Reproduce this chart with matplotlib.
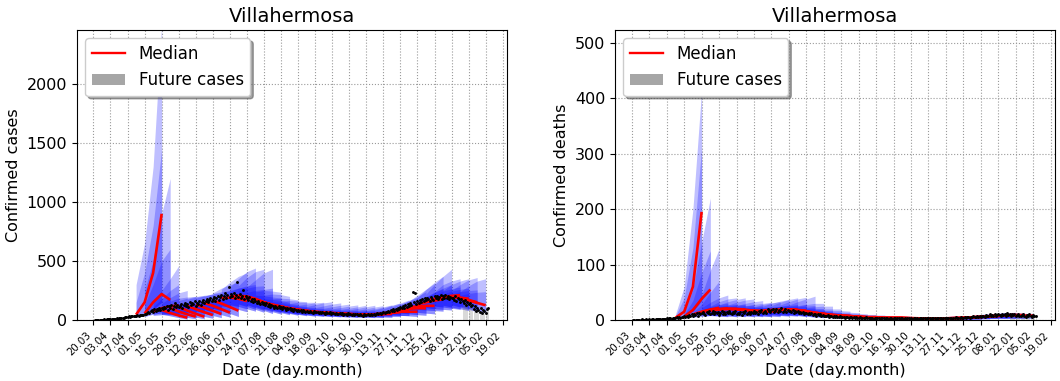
import numpy as np
import matplotlib
matplotlib.use("Agg")
import matplotlib.pyplot as plt
from matplotlib.lines import Line2D
from matplotlib.patches import Patch

# x axis: days counted from 20.03
tick_days = list(range(0, 337, 14))
tick_labels = ["20.03", "03.04", "17.04", "01.05", "15.05", "29.05", "12.06",
               "26.06", "10.07", "24.07", "07.08", "21.08", "04.09", "18.09",
               "02.10", "16.10", "30.10", "13.11", "27.11", "11.12", "25.12",
               "08.01", "22.01", "05.02", "19.02"]

# daily reported values, day 1 .. 324
obs_cases = [
    1, 0, 2, 1, 3, 2, 4, 3, 5, 4, 6, 5, 7, 8,
    9, 8, 11, 10, 13, 12, 15, 17, 16, 20, 19, 23, 25, 28,
    30, 27, 33, 35, 31, 38, 36, 40, 34, 42, 39, 45, 41, 48,
    55, 62, 70, 58, 78, 85, 66, 90, 74, 95, 82, 100, 88, 105,
    92, 110, 98, 120, 85, 115, 104, 130, 96, 118, 140, 108, 125, 112,
    122, 135, 105, 128, 145, 118, 138, 110, 150, 126, 142, 132, 160, 120,
    148, 138, 165, 130, 155, 172, 145, 160, 182, 150, 170, 190, 158, 176,
    195, 165, 185, 205, 172, 198, 215, 180, 200, 225, 188, 210, 280, 195,
    218, 200, 230, 190, 212, 325, 198, 222, 185, 205, 254, 178, 200, 188,
    170, 195, 160, 182, 150, 175, 165, 140, 160, 148, 132, 155, 138, 145,
    125, 140, 118, 132, 110, 128, 120, 105, 122, 112, 98, 115, 104, 108,
    95, 110, 100, 88, 105, 92, 98, 85, 96, 80, 90, 84, 78, 88,
    76, 82, 70, 85, 74, 68, 80, 72, 65, 78, 70, 62, 74, 66,
    64, 72, 60, 68, 58, 66, 62, 55, 70, 60, 57, 64, 52, 60,
    58, 50, 62, 55, 48, 60, 52, 57, 46, 54, 50, 44, 56, 48,
    50, 45, 53, 42, 48, 51, 44, 40, 49, 46, 38, 47, 43, 41,
    48, 44, 40, 52, 46, 55, 42, 50, 58, 48, 62, 55, 60, 66,
    58, 70, 64, 75, 68, 82, 74, 90, 78, 95, 85, 102, 92, 110,
    98, 115, 105, 125, 112, 135, 118, 145, 128, 240, 150, 232, 138, 160,
    148, 170, 155, 178, 162, 185, 168, 190, 175, 160, 195, 180, 172, 200,
    185, 205, 178, 195, 210, 182, 200, 188, 215, 190, 205, 175, 198, 185,
    190, 170, 200, 162, 185, 175, 150, 180, 165, 140, 172, 128, 155, 135,
    145, 118, 130, 95, 120, 80, 105, 88, 70, 98, 62, 85, 75, 60,
    90, 99,
]

obs_deaths = [
    0, 0, 0, 0, 0, 0, 0, 1, 0, 0, 1, 0, 0, 1,
    0, 1, 1, 0, 1, 1, 2, 1, 1, 2, 1, 2, 2, 3,
    2, 3, 3, 2, 4, 3, 4, 5, 3, 5, 4, 6, 5, 7,
    6, 8, 5, 9, 7, 10, 8, 11, 9, 12, 8, 13, 10, 12,
    14, 11, 9, 15, 12, 17, 10, 13, 16, 11, 14, 12, 15, 9,
    13, 16, 11, 14, 10, 15, 12, 17, 13, 11, 14, 12, 16, 10,
    13, 11, 15, 9, 14, 12, 16, 10, 13, 15, 11, 14, 12, 17,
    13, 15, 11, 16, 14, 18, 12, 15, 17, 13, 19, 16, 14, 18,
    20, 15, 17, 19, 14, 18, 16, 21, 15, 17, 19, 14, 18, 16,
    17, 15, 18, 13, 16, 14, 17, 12, 15, 13, 14, 11, 13, 12,
    11, 13, 10, 12, 9, 11, 10, 8, 11, 9, 10, 7, 9, 8,
    8, 7, 9, 6, 8, 7, 6, 8, 5, 7, 6, 5, 7, 6,
    5, 6, 4, 6, 5, 4, 6, 5, 4, 5, 3, 5, 4, 4,
    5, 3, 4, 4, 3, 5, 4, 3, 4, 3, 4, 2, 4, 3,
    3, 4, 2, 3, 4, 3, 2, 3, 4, 2, 3, 3, 2, 4,
    3, 2, 3, 3, 2, 4, 3, 2, 3, 2, 3, 3, 2, 3,
    2, 3, 3, 2, 3, 2, 4, 3, 2, 3, 3, 2, 3, 4,
    3, 2, 3, 4, 3, 2, 3, 3, 4, 3, 2, 4, 3, 3,
    4, 3, 3, 4, 2, 4, 3, 5, 4, 3, 4, 5, 3, 4,
    5, 4, 6, 5, 4, 6, 5, 7, 5, 6, 8, 6, 7, 5,
    7, 8, 6, 9, 7, 8, 10, 7, 9, 8, 11, 8, 9, 10,
    9, 8, 11, 9, 10, 8, 12, 9, 10, 8, 11, 9, 10, 7,
    9, 10, 8, 7, 9, 11, 8, 6, 9, 7, 10, 8, 6, 9,
    7, 8,
]
obs_day = np.arange(1, len(obs_cases) + 1)
recent_from = 303  # last days, still being revised

# weekly forecasts, 21-day horizon, values at offsets 0/7/14/21 days
fc_start = [35, 42, 49, 56, 63, 70, 77, 84, 91, 98, 105, 112, 119, 126,
            133, 140, 147, 154, 161, 168, 175, 182, 189, 196, 203, 210,
            217, 224, 231, 238, 245, 252, 259, 266, 273, 280, 287, 294, 301]
knot_offsets = [0, 7, 14, 21]

cases_med = [
    [45, 150, 400, 900], [55, 150, 220, 170], [70, 100, 115, 125], [85, 60, 38, 20],
    [100, 72, 48, 28], [110, 80, 52, 28], [120, 92, 66, 42], [130, 105, 78, 51],
    [145, 120, 92, 62], [165, 140, 110, 79], [185, 190, 180, 160], [200, 205, 190, 170],
    [205, 200, 180, 150], [195, 175, 150, 125], [175, 150, 125, 100], [150, 130, 110, 90],
    [130, 115, 98, 82], [115, 100, 86, 72], [100, 88, 76, 65], [88, 78, 68, 60],
    [78, 70, 62, 55], [70, 64, 58, 52], [64, 58, 53, 48], [60, 55, 50, 46],
    [55, 51, 47, 44], [50, 48, 46, 44], [48, 47, 46, 45], [46, 48, 50, 52],
    [50, 55, 60, 66], [58, 66, 75, 85], [72, 70, 70, 70], [90, 95, 100, 100],
    [110, 115, 120, 120], [135, 150, 165, 175], [160, 180, 195, 200], [178, 195, 205, 210],
    [190, 195, 190, 180], [195, 185, 170, 150], [185, 165, 145, 125],
]
cases_up = [
    [300, 650, 1300, 2500], [250, 500, 900, 1200], [150, 250, 350, 460], [140, 190, 230, 250],
    [160, 185, 195, 200], [165, 185, 200, 205], [175, 195, 210, 215], [185, 205, 220, 230],
    [200, 225, 240, 250], [230, 270, 300, 320], [260, 320, 370, 400], [280, 350, 410, 440],
    [290, 360, 410, 430], [280, 340, 400, 430], [240, 250, 245, 235], [210, 220, 215, 200],
    [180, 185, 180, 170], [160, 165, 160, 155], [140, 150, 150, 150], [125, 135, 145, 150],
    [115, 130, 145, 155], [105, 120, 135, 145], [100, 112, 125, 135], [95, 105, 118, 128],
    [90, 100, 112, 125], [85, 98, 112, 125], [82, 95, 110, 122], [80, 95, 112, 128],
    [85, 105, 125, 145], [95, 120, 145, 170], [110, 135, 160, 190], [130, 165, 200, 240],
    [160, 210, 260, 310], [190, 260, 320, 370], [220, 300, 370, 430], [240, 300, 330, 350],
    [250, 300, 330, 350], [250, 300, 340, 360], [240, 290, 330, 350],
]
cases_up_in = [
    [150, 400, 800, 1450], [130, 300, 500, 600], [110, 180, 250, 300], [110, 130, 140, 150],
    [125, 130, 130, 130], [135, 140, 140, 140], [145, 150, 150, 150], [155, 160, 160, 160],
    [170, 175, 175, 175], [195, 205, 210, 215], [220, 250, 270, 280], [240, 270, 290, 300],
    [245, 270, 285, 290], [235, 250, 260, 270], [210, 205, 195, 185], [180, 175, 165, 150],
    [155, 150, 140, 130], [138, 130, 122, 115], [120, 115, 110, 105], [106, 102, 100, 98],
    [95, 92, 92, 92], [86, 85, 86, 88], [80, 80, 82, 85], [76, 76, 78, 82],
    [70, 72, 75, 80], [66, 70, 74, 80], [64, 68, 73, 80], [62, 68, 76, 85],
    [66, 76, 88, 100], [75, 90, 105, 120], [90, 100, 110, 125], [110, 130, 150, 170],
    [135, 165, 195, 220], [160, 200, 235, 265], [190, 235, 270, 300], [210, 245, 265, 280],
    [220, 245, 260, 270], [220, 240, 250, 255], [210, 225, 235, 240],
]
cases_lo = [
    [25, 50, 90, 150], [30, 50, 60, 50], [40, 45, 45, 40], [50, 35, 20, 8],
    [60, 40, 22, 10], [65, 45, 25, 10], [70, 50, 30, 15], [80, 60, 38, 20],
    [90, 70, 45, 25], [100, 80, 55, 30], [120, 110, 90, 70], [130, 115, 95, 75],
    [135, 115, 90, 65], [130, 105, 80, 55], [115, 90, 70, 50], [100, 80, 62, 45],
    [85, 70, 55, 40], [75, 60, 48, 36], [65, 52, 42, 32], [58, 46, 38, 30],
    [52, 42, 35, 28], [46, 38, 32, 26], [42, 35, 29, 24], [40, 33, 27, 22],
    [36, 30, 25, 21], [33, 28, 24, 20], [32, 28, 24, 20], [30, 28, 25, 22],
    [33, 32, 30, 30], [38, 38, 38, 38], [48, 40, 35, 30], [60, 52, 45, 40],
    [72, 65, 58, 52], [90, 85, 80, 75], [105, 95, 90, 85], [118, 110, 100, 90],
    [125, 110, 95, 80], [130, 110, 90, 70], [120, 100, 80, 60],
]

deaths_med = [
    [4, 15, 60, 195], [6, 18, 38, 55], [10, 15, 19, 22], [14, 18, 20, 21],
    [17, 19, 20, 20], [19, 20, 20, 19], [20, 19, 18, 17], [19, 18, 17, 16],
    [18, 17, 16, 15], [17, 17, 17, 17], [17, 18, 18, 19], [18, 19, 19, 19],
    [19, 19, 18, 17], [19, 17, 15, 13], [18, 15, 13, 11], [16, 13, 11, 9],
    [13, 11, 9, 8], [11, 9, 8, 7], [9, 8, 7, 6], [8, 7, 6, 5],
    [7, 6, 5, 5], [6, 5, 5, 4], [5, 5, 4, 4], [5, 4, 4, 4],
    [4, 4, 4, 3], [4, 4, 3, 3], [3.5, 3.5, 3, 3], [3, 3, 3, 3],
    [3, 3, 3, 3], [3, 3, 3, 3], [3, 3, 3.5, 3.5], [3, 3.5, 4, 4],
    [3.5, 4, 4.5, 5], [4, 5, 5.5, 6], [5, 6, 6.5, 7], [6, 7, 7.5, 8],
    [7, 8, 8.5, 9], [8, 8.5, 9, 9], [8.5, 8.5, 8, 8],
]
deaths_up = [
    [10, 60, 200, 415], [14, 55, 140, 220], [18, 45, 90, 128], [22, 32, 40, 45],
    [25, 33, 38, 40], [27, 33, 37, 40], [27, 32, 36, 38], [26, 30, 33, 35],
    [25, 28, 30, 32], [24, 28, 31, 33], [25, 30, 34, 37], [26, 32, 37, 40],
    [27, 33, 38, 41], [27, 33, 38, 43], [25, 28, 30, 30], [22, 24, 25, 25],
    [19, 20, 20, 20], [16, 17, 17, 16], [14, 14, 14, 13], [12, 12, 12, 11],
    [10, 10, 10, 10], [9, 9, 9, 9], [8, 8, 8, 8], [7, 7, 7, 7],
    [7, 7, 7, 7], [6, 6, 6, 6], [6, 6, 6, 6], [5, 6, 6, 6],
    [5, 6, 6, 6], [5, 6, 6, 7], [5, 6, 7, 7], [6, 7, 8, 8],
    [6, 7, 8, 9], [7, 8, 10, 11], [8, 10, 11, 12], [9, 11, 12, 13],
    [11, 12, 13, 14], [12, 13, 13, 13], [12, 12, 12, 12],
]
deaths_up_in = [
    [7, 40, 130, 310], [10, 35, 85, 125], [14, 28, 50, 70], [18, 24, 28, 30],
    [21, 25, 27, 28], [23, 25, 27, 28], [23, 25, 26, 27], [22, 23, 24, 25],
    [21, 22, 23, 24], [21, 22, 23, 24], [21, 23, 25, 27], [22, 24, 26, 28],
    [23, 25, 26, 28], [23, 24, 25, 26], [21, 21, 21, 20], [19, 18, 17, 16],
    [16, 15, 14, 13], [13, 12, 12, 11], [11, 10, 10, 9], [10, 9, 8, 8],
    [8, 8, 7, 7], [7, 7, 7, 6], [6, 6, 6, 6], [6, 5, 5, 5],
    [5, 5, 5, 5], [5, 5, 4, 4], [4.5, 4.5, 4.5, 4.5], [4, 4.5, 4.5, 4.5],
    [4, 4.5, 4.5, 4.5], [4, 4.5, 4.5, 5], [4, 4.5, 5, 5.5], [4.5, 5, 6, 6],
    [5, 5.5, 6.5, 7], [5.5, 6.5, 7.5, 8.5], [6.5, 8, 9, 10], [7.5, 9, 10, 11],
    [9, 10, 11, 12], [10, 11, 11, 11], [10, 10.5, 10.5, 10.5],
]
deaths_lo = [
    [2, 5, 15, 35], [3, 7, 12, 15], [5, 7, 8, 9], [8, 8, 7, 6],
    [10, 8, 7, 6], [11, 9, 7, 6], [12, 9, 7, 6], [11, 9, 7, 6],
    [11, 9, 7, 6], [10, 8, 7, 6], [10, 9, 8, 7], [11, 9, 8, 7],
    [11, 9, 8, 6], [11, 9, 7, 5], [10, 8, 6, 4], [9, 7, 5, 4],
    [8, 6, 4, 3], [6, 5, 4, 3], [5, 4, 3, 2], [4, 3, 3, 2],
    [4, 3, 2, 2], [3, 3, 2, 2], [3, 2, 2, 1], [3, 2, 2, 1],
    [2, 2, 1, 1], [2, 1.5, 1, 1], [2, 1.5, 1, 1], [2, 1.5, 1, 1],
    [2, 1.5, 1, 1], [2, 1.5, 1, 1], [2, 1.5, 1, 1], [2, 1.5, 1, 1],
    [2, 1.5, 1, 1], [2, 2, 2, 2], [3, 3, 3, 3], [3, 3, 3, 3],
    [4, 4, 3, 3], [4, 4, 3, 3], [4, 4, 3, 3],
]

BAND = "blue"
MEDIAN = "red"


def draw_panel(ax, obs, med, up, up_in, lo, ymax, yticks, ylabel):
    for s, u, ui, l in zip(fc_start, up, up_in, lo):
        xk = [s + o for o in knot_offsets]
        ax.fill_between(xk, l, u, color=BAND, alpha=0.25, lw=0)
        ax.fill_between(xk, l, ui, color=BAND, alpha=0.25, lw=0)
    for s, m in zip(fc_start, med):
        xk = [s + o for o in knot_offsets]
        ax.plot(xk, m, color=MEDIAN, lw=1.9, solid_capstyle="butt")
    obs = np.asarray(obs, dtype=float)
    recent = obs_day >= recent_from
    ax.vlines(obs_day[recent], 0, obs[recent], color="gray", lw=0.6, alpha=0.35)
    ax.plot(obs_day, obs, "o", color="black", ms=2.1, mew=0)

    ax.set_xlim(-13.5, 339.5)
    ax.set_ylim(0, ymax)
    ax.set_xticks(tick_days)
    ax.set_xticklabels(tick_labels, rotation=45, ha="right", fontsize=7.3)
    ax.set_yticks(yticks)
    ax.tick_params(axis="y", labelsize=11.5)
    ax.grid(True, linestyle=":", linewidth=0.8, color="#9a9a9a")
    ax.set_axisbelow(True)
    ax.set_title("Villahermosa", fontsize=14)
    ax.set_xlabel("Date (day.month)", fontsize=11.5)
    ax.set_ylabel(ylabel, fontsize=11.5)

    handles = [Line2D([], [], color=MEDIAN, lw=1.7),
               Patch(facecolor="#a6a6a6", edgecolor="none")]
    ax.legend(handles, ["Median", "Future cases"], loc="upper left",
              shadow=True, fontsize=12, framealpha=1)


fig = plt.figure(figsize=(10.6, 3.81), dpi=100)
ax_cases = fig.add_axes([77 / 1060, 61 / 381, 430 / 1060, 290 / 381])
ax_deaths = fig.add_axes([615 / 1060, 61 / 381, 440 / 1060, 290 / 381])

draw_panel(ax_cases, obs_cases, cases_med, cases_up, cases_up_in, cases_lo,
           2458, [0, 500, 1000, 1500, 2000], "Confirmed cases")
draw_panel(ax_deaths, obs_deaths, deaths_med, deaths_up, deaths_up_in, deaths_lo,
           523, [0, 100, 200, 300, 400, 500], "Confirmed deaths")

fig.savefig("out.png", dpi=100)
